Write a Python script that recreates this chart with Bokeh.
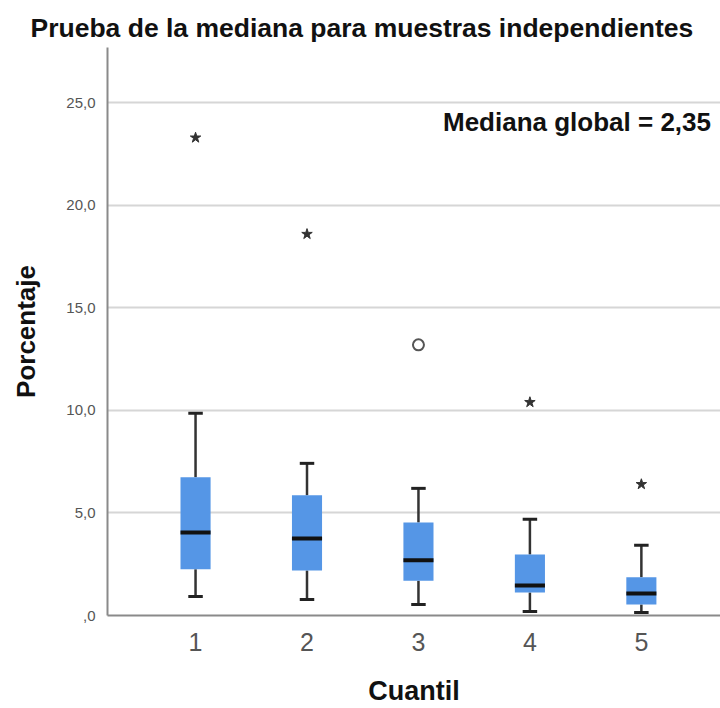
from bokeh.plotting import figure
from bokeh.models import FixedTicker, Range1d, Label
from bokeh.embed import file_html
from bokeh.resources import INLINE

# Quantile groups and their box-plot summaries (percent)
quantiles = [1, 2, 3, 4, 5]
whisker_low = [0.93, 0.78, 0.54, 0.20, 0.15]
q1 = [2.25, 2.20, 1.70, 1.12, 0.54]
median = [4.05, 3.76, 2.69, 1.46, 1.07]
q3 = [6.74, 5.86, 4.54, 2.98, 1.86]
whisker_high = [9.86, 7.42, 6.20, 4.69, 3.42]

# Extreme values (stars) and outliers (circles)
extreme_x = [1, 2, 4, 5]
extreme_y = [23.3, 18.6, 10.4, 6.4]
outlier_x = [3]
outlier_y = [13.2]

global_median = 2.35

y_ticks = [0, 5, 10, 15, 20, 25]
y_tick_labels = [",0", "5,0", "10,0", "15,0", "20,0", "25,0"]
x_tick_labels = ["1", "2", "3", "4", "5"]

FONT = "Liberation Sans"
BOX_COLOR = "#5596E6"

p = figure(
    width=720, height=708,
    output_backend="svg", toolbar_location=None,
    x_range=Range1d(0.21, 5.71), y_range=Range1d(0, 27.7),
    min_border_left=107, min_border_right=0,
    min_border_top=47, min_border_bottom=93,
)

p.title.text = "Prueba de la mediana para muestras independientes"
p.title.text_font = FONT
p.title.text_font_size = "26.5px"
p.title.text_font_style = "bold"
p.title.text_color = "#111111"
p.title.align = "left"
p.title.offset = -77
p.title.standoff = 10

p.outline_line_color = None
p.background_fill_color = "white"
p.border_fill_color = "white"

# Grid
p.xgrid.grid_line_color = None
p.ygrid.ticker = FixedTicker(ticks=y_ticks[1:])
p.ygrid.grid_line_color = "#d6d6d6"
p.ygrid.grid_line_width = 2

# Y axis
p.yaxis.ticker = FixedTicker(ticks=y_ticks)
p.yaxis.major_label_overrides = {t: l for t, l in zip(y_ticks, y_tick_labels)}
p.yaxis.major_tick_line_color = None
p.yaxis.minor_tick_line_color = None
p.yaxis.axis_line_color = "#8a8a8a"
p.yaxis.axis_line_width = 2
p.yaxis.major_label_text_font = FONT
p.yaxis.major_label_text_font_size = "15px"
p.yaxis.major_label_text_color = "#555555"
p.yaxis.major_label_standoff = 6
p.yaxis.axis_label = "Porcentaje"
p.yaxis.axis_label_text_font = FONT
p.yaxis.axis_label_text_font_size = "26px"
p.yaxis.axis_label_text_font_style = "bold"
p.yaxis.axis_label_text_color = "#111111"
p.yaxis.axis_label_standoff = 22

# X axis
p.xaxis.ticker = FixedTicker(ticks=quantiles)
p.xaxis.major_label_overrides = {q: l for q, l in zip(quantiles, x_tick_labels)}
p.xaxis.major_tick_line_color = None
p.xaxis.minor_tick_line_color = None
p.xaxis.axis_line_color = "#8a8a8a"
p.xaxis.axis_line_width = 2
p.xaxis.major_label_text_font = FONT
p.xaxis.major_label_text_font_size = "25px"
p.xaxis.major_label_text_color = "#555555"
p.xaxis.major_label_standoff = 11
p.xaxis.axis_label = "Cuantil"
p.xaxis.axis_label_text_font = FONT
p.xaxis.axis_label_text_font_size = "27px"
p.xaxis.axis_label_text_font_style = "bold"
p.xaxis.axis_label_text_color = "#111111"
p.xaxis.axis_label_standoff = 22

# Whiskers and caps
p.segment(x0=quantiles, y0=whisker_low, x1=quantiles, y1=q1,
          line_color="#333333", line_width=2.5)
p.segment(x0=quantiles, y0=q3, x1=quantiles, y1=whisker_high,
          line_color="#333333", line_width=2.5)
cap_half = 0.065
p.segment(x0=[q - cap_half for q in quantiles], y0=whisker_low,
          x1=[q + cap_half for q in quantiles], y1=whisker_low,
          line_color="#222222", line_width=3)
p.segment(x0=[q - cap_half for q in quantiles], y0=whisker_high,
          x1=[q + cap_half for q in quantiles], y1=whisker_high,
          line_color="#222222", line_width=3)

# Boxes
p.vbar(x=quantiles, width=0.27, bottom=q1, top=q3,
       fill_color=BOX_COLOR, line_color=None)

# Medians
p.segment(x0=[q - 0.135 for q in quantiles], y0=median,
          x1=[q + 0.135 for q in quantiles], y1=median,
          line_color="#111111", line_width=4)

# Extremes and outliers
p.scatter(x=extreme_x, y=extreme_y, marker="star", size=11,
          fill_color="#333333", line_color="#333333")
p.scatter(x=outlier_x, y=outlier_y, marker="circle", size=11,
          fill_color="white", line_color="#555555", line_width=2)

# Global median annotation
p.add_layout(Label(
    x=3.22, y=24.07,
    text="Mediana global = " + f"{global_median:.2f}".replace(".", ","),
    text_font=FONT, text_font_size="26px", text_font_style="bold",
    text_color="#111111", text_baseline="middle", text_align="left",
))

open("out.html", "w").write(file_html(p, INLINE))
